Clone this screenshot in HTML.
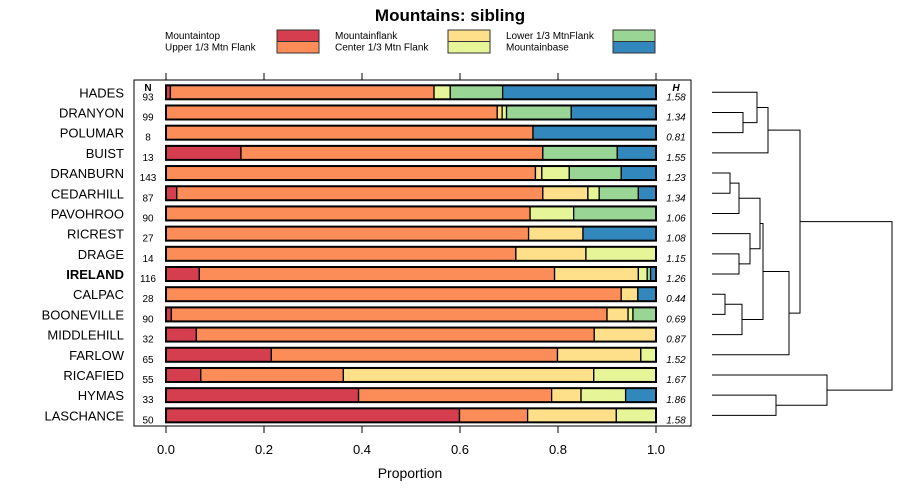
<!DOCTYPE html>
<html><head><meta charset="utf-8"><style>
body{margin:0;background:#fff;}
svg{display:block;font-family:"Liberation Sans",sans-serif;}
</style></head><body>
<svg id="chart" width="900" height="500">
<text x="450" y="21" text-anchor="middle" font-size="17" font-weight="bold">Mountains: sibling</text>
<g id="legend"></g>
<rect x="134" y="80" width="557" height="346" fill="none" stroke="#000"/>
<g id="bars"></g><g id="axes"></g><g id="dendro"></g>
<text x="410" y="478" text-anchor="middle" font-size="14">Proportion</text>
</svg>
<script>
const categories=["HADES","DRANYON","POLUMAR","BUIST","DRANBURN","CEDARHILL","PAVOHROO","RICREST","DRAGE","IRELAND","CALPAC","BOONEVILLE","MIDDLEHILL","FARLOW","RICAFIED","HYMAS","LASCHANCE"];
const nValues=[93,99,8,13,143,87,90,27,14,116,28,90,32,65,55,33,50];
const hValues=["1.58","1.34","0.81","1.55","1.23","1.34","1.06","1.08","1.15","1.26","0.44","0.69","0.87","1.52","1.67","1.86","1.58"];
const seriesNames=["Mountaintop","Upper 1/3 Mtn Flank","Mountainflank","Center 1/3 Mtn Flank","Lower 1/3 MtnFlank","Mountainbase"];
const colors=["#d53e4f","#fc8d59","#fee08b","#e6f598","#99d594","#3288bd"];
const mountaintop=[0.009,0,0,0.153,0,0.022,0,0,0,0.068,0,0.011,0.062,0.215,0.071,0.393,0.599];
const upperFlank=[0.538,0.676,0.749,0.616,0.754,0.747,0.743,0.740,0.714,0.725,0.929,0.889,0.812,0.584,0.291,0.394,0.139];
const mountainflank=[0,0.010,0,0,0.013,0.092,0,0.111,0.143,0.171,0.034,0.043,0.126,0.170,0.511,0.060,0.181];
const centerFlank=[0.033,0.009,0,0,0.056,0.023,0.089,0,0.143,0.018,0,0.010,0,0.031,0.127,0.091,0.081];
const lowerFlank=[0.107,0.132,0,0.152,0.106,0.080,0.168,0,0,0.007,0,0.047,0,0,0,0,0];
const mountainbase=[0.313,0.173,0.251,0.079,0.071,0.036,0,0.149,0,0.011,0.037,0,0,0,0,0.062,0];
const xTicks=[0,0.2,0.4,0.6,0.8,1.0];
const xTickLabels=["0.0","0.2","0.4","0.6","0.8","1.0"];
const series=[mountaintop,upperFlank,mountainflank,centerFlank,lowerFlank,mountainbase];
const NS="http://www.w3.org/2000/svg";
const X=v=>166+v*490, Y=i=>92.3+i*20.19;
function mk(t,a,p){const e=document.createElementNS(NS,t);for(const k in a)e.setAttribute(k,a[k]);p.appendChild(e);return e;}
const bars=document.getElementById('bars'),axes=document.getElementById('axes'),leg=document.getElementById('legend'),den=document.getElementById('dendro');
// legend
const lx=[[165,277],[335,448],[506,613]];
seriesNames.forEach((n,k)=>{const c=Math.floor(k/2),r=k%2;const y=30+r*11.5;
 const t=mk('text',{x:lx[c][0],y:y+9,'font-size':10},leg);t.textContent=n;
 
 const b=mk('rect',{x:lx[c][1],y:y,width:42,height:11.5,fill:colors[k],stroke:'#333','stroke-width':1},leg);
 });
// axes
xTicks.forEach((v,i)=>{
 mk('line',{x1:X(v),x2:X(v),y1:73,y2:80,stroke:'#000'},axes);
 mk('line',{x1:X(v),x2:X(v),y1:426,y2:433,stroke:'#000'},axes);
 const t=mk('text',{x:X(v),y:454,'text-anchor':'middle','font-size':13},axes);t.textContent=xTickLabels[i];
 });
let t=mk('text',{x:148,y:91,'text-anchor':'middle','font-size':10,'font-weight':'bold'},axes);t.textContent='N';

t=mk('text',{x:676,y:91,'text-anchor':'middle','font-size':10,'font-weight':'bold','font-style':'italic'},axes);t.textContent='H';

categories.forEach((c,i)=>{const y=Y(i);
 let l=mk('text',{x:124,y:y+5,'text-anchor':'end','font-size':13,'font-weight':c==='IRELAND'?'bold':'normal'},axes);l.textContent=c;
 
 l=mk('text',{x:148,y:y+8,'text-anchor':'middle','font-size':10},axes);l.textContent=nValues[i];
 
 l=mk('text',{x:676,y:y+8,'text-anchor':'middle','font-size':10,'font-style':'italic'},axes);l.textContent=hValues[i];
 
 let cum=0;series.forEach((s,k)=>{const v=s[i];if(v>0){
  const r=mk('rect',{x:X(cum),y:y-7,width:X(cum+v)-X(cum),height:14,fill:colors[k],stroke:'#000','stroke-width':1.3},bars);
  }cum+=v;});
 mk('rect',{x:X(0),y:y-7,width:490,height:14,fill:'none',stroke:'#000','stroke-width':2},bars);
});
// dendrogram: [left,right,x]
const merges=[[1,2,743],[0,17,757],[18,3,768],[4,5,730],[20,6,739],[8,9,739],[7,22,750],[21,23,760],[10,11,725],[25,12,742],[24,26,763],[27,13,789],[19,28,800],[15,16,776],[14,30,827],[29,31,892]];
const nx=[],ny=[];categories.forEach((c,i)=>{nx[i]=712;ny[i]=Y(i);});
merges.forEach((m,j)=>{const id=17+j,[a,b,x]=m;
 const p=mk('path',{d:`M${nx[a]},${ny[a]}H${x}V${ny[b]}H${nx[b]}`,fill:'none',stroke:'#000'},den);
 
 nx[id]=x;ny[id]=(ny[a]+ny[b])/2;});
</script>
</body></html>
